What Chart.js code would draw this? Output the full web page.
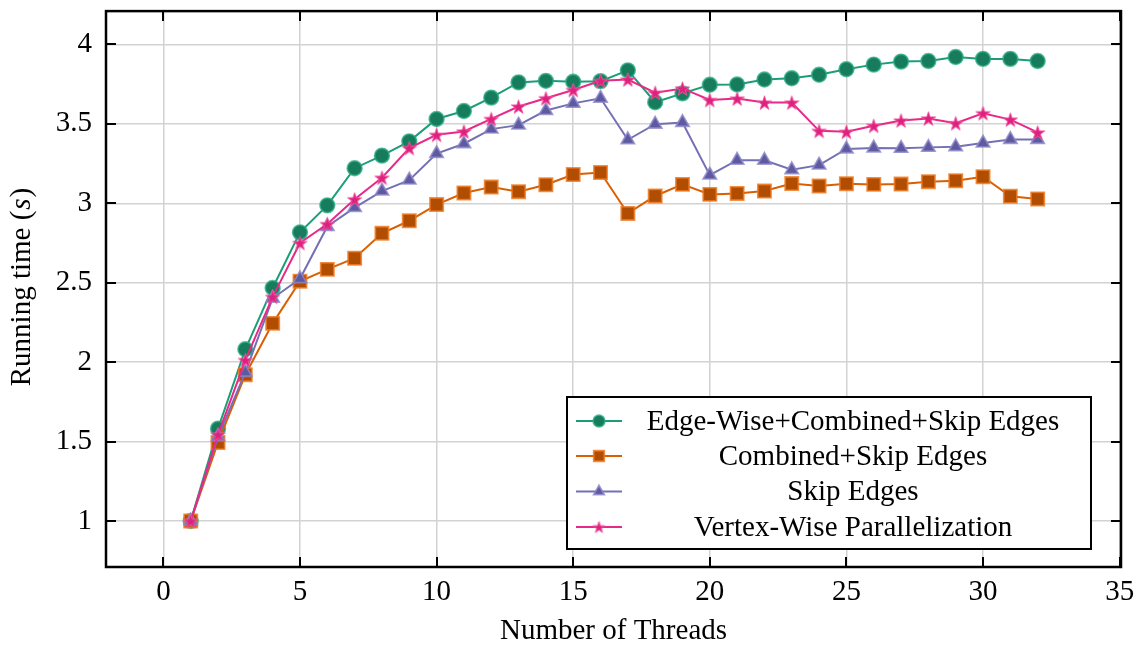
<!DOCTYPE html>
<html>
<head>
<meta charset="utf-8">
<script src="https://cdn.jsdelivr.net/npm/chart.js@4.4.1/dist/chart.umd.min.js"></script>
<style>
  html, body { margin: 0; padding: 0; background: #fff; }
  #wrap { width: 1139px; height: 645px; position: relative; }
</style>
</head>
<body>
<div id="wrap"><canvas id="c" width="1139" height="645"></canvas></div>
<script>
const threads = [1,2,3,4,5,6,7,8,9,10,11,12,13,14,15,16,17,18,19,20,21,22,23,24,25,26,27,28,29,30,31,32];

const edgeWiseCombinedSkip = [1.0,1.581,2.081,2.467,2.817,2.987,3.221,3.30,3.39,3.531,3.581,3.665,3.761,3.771,3.765,3.769,3.837,3.636,3.692,3.746,3.748,3.779,3.787,3.809,3.844,3.873,3.892,3.896,3.921,3.909,3.909,3.896];
const combinedSkip = [1.0,1.494,1.921,2.244,2.509,2.584,2.654,2.811,2.89,2.992,3.065,3.102,3.073,3.117,3.181,3.194,2.936,3.046,3.119,3.056,3.062,3.077,3.124,3.109,3.123,3.119,3.121,3.136,3.142,3.167,3.044,3.027];
const skipEdges = [1.0,1.53,1.935,2.402,2.525,2.854,2.973,3.077,3.146,3.313,3.375,3.467,3.492,3.584,3.629,3.661,3.40,3.498,3.509,3.177,3.271,3.271,3.211,3.24,3.342,3.348,3.346,3.352,3.356,3.379,3.402,3.402];
const vertexWise = [1.0,1.544,2.013,2.411,2.75,2.869,3.025,3.161,3.348,3.431,3.452,3.531,3.609,3.661,3.713,3.771,3.779,3.696,3.723,3.65,3.659,3.634,3.634,3.456,3.45,3.488,3.521,3.534,3.504,3.567,3.527,3.446];

const seriesNames = ["Edge-Wise+Combined+Skip Edges","Combined+Skip Edges","Skip Edges","Vertex-Wise Parallelization"];
const xTicks = [0,5,10,15,20,25,30,35];
const yTicks = [1,1.5,2,2.5,3,3.5,4];

const FONT = "'Liberation Serif', 'DejaVu Serif', serif";
const FS = 29;

function makeStar(outer, inner, fill, edge) {
  const s = Math.ceil(outer * 2 + 4);
  const c = document.createElement('canvas');
  c.width = s; c.height = s;
  const g = c.getContext('2d');
  const cx = s / 2, cy = s / 2 + outer * 0.1;
  g.beginPath();
  for (let k = 0; k < 10; k++) {
    const r = k % 2 === 0 ? outer : inner;
    const ang = -Math.PI / 2 + k * Math.PI / 5;
    const px = cx + r * Math.cos(ang), py = cy + r * Math.sin(ang);
    if (k === 0) g.moveTo(px, py); else g.lineTo(px, py);
  }
  g.closePath();
  g.fillStyle = fill; g.fill();
  g.strokeStyle = edge; g.lineWidth = 1; g.stroke();
  return c;
}
const starImg = makeStar(7.5, 2.9, '#e0207f', 'rgba(240,90,160,0.9)');
const starImgSmall = makeStar(6.2, 2.4, '#e0207f', 'rgba(240,90,160,0.9)');

const styles = [
  {line:'#1b9e77', fill:'#167c5c', edge:'rgba(40,170,130,0.75)', shape:'circle', r:7.3},
  {line:'#d95f02', fill:'#b04d00', edge:'rgba(240,120,30,0.8)', shape:'rect', r:9.3},
  {line:'#7570b3', fill:'#5f5aa0', edge:'rgba(140,135,200,0.8)', shape:'triangle', r:7.6},
  {line:'#e7298a', fill:'#e7298a', edge:'#e7298a', shape:starImg, small:starImgSmall, r:7}
];
const allSeries = [edgeWiseCombinedSkip, combinedSkip, skipEdges, vertexWise];

const datasets = allSeries.map((vals, i) => ({
  label: seriesNames[i],
  data: threads.map((t, k) => ({x: t, y: vals[k]})),
  borderColor: styles[i].line,
  borderWidth: 2,
  pointStyle: styles[i].shape,
  pointRadius: styles[i].r,
  pointBackgroundColor: styles[i].fill,
  pointBorderColor: styles[i].edge,
  pointBorderWidth: 1.8,
  tension: 0,
  order: 4 - i,
  clip: false
}));

const framePlugin = {
  id: 'frame',
  afterDatasetsDraw(chart) {
    const {ctx, chartArea: a, scales} = chart;
    ctx.save();
    ctx.strokeStyle = '#000';
    ctx.lineWidth = 2;
    const TL = 10;
    ctx.beginPath();
    xTicks.forEach(v => {
      const px = Math.round(scales.x.getPixelForValue(v));
      ctx.moveTo(px, a.bottom); ctx.lineTo(px, a.bottom - TL);
      ctx.moveTo(px, a.top); ctx.lineTo(px, a.top + TL);
    });
    yTicks.forEach(v => {
      const py = Math.round(scales.y.getPixelForValue(v));
      ctx.moveTo(a.left, py); ctx.lineTo(a.left + TL, py);
      ctx.moveTo(a.right, py); ctx.lineTo(a.right - TL, py);
    });
    ctx.stroke();
    ctx.lineWidth = 2.5;
    ctx.strokeRect(a.left, a.top, a.right - a.left, a.bottom - a.top);

    // legend
    const lx = 567, ly = 397, lw = 524, lh = 152;
    ctx.fillStyle = '#fff';
    ctx.fillRect(lx, ly, lw, lh);
    ctx.lineWidth = 2;
    ctx.strokeStyle = '#000';
    ctx.strokeRect(lx, ly, lw, lh);
    const rows = [421, 456, 491.5, 527];
    ctx.font = FS + "px " + FONT;
    ctx.textAlign = 'center';
    ctx.textBaseline = 'middle';
    seriesNames.forEach((name, i) => {
      const st = styles[i];
      const y = rows[i];
      ctx.strokeStyle = st.line;
      ctx.lineWidth = 2;
      ctx.beginPath(); ctx.moveTo(576, y); ctx.lineTo(622, y); ctx.stroke();
      ctx.fillStyle = st.fill;
      ctx.strokeStyle = st.edge;
      ctx.lineWidth = 1.8;
      Chart.helpers.drawPoint(ctx, {pointStyle: st.small || st.shape, radius: st.r * 0.8, rotation: 0, borderWidth: 1.8}, 599, y);
      ctx.fillStyle = '#000';
      ctx.fillText(name, 853, y + 1);
    });

    // y-axis title with italic s
    ctx.save();
    ctx.translate(22, 287);
    ctx.rotate(-Math.PI / 2);
    ctx.fillStyle = '#000';
    ctx.textBaseline = 'middle';
    ctx.textAlign = 'left';
    const p1 = "Running time (", p2 = "s", p3 = ")";
    ctx.font = FS + "px " + FONT;
    const w1 = ctx.measureText(p1).width;
    const w3 = ctx.measureText(p3).width;
    ctx.font = "italic " + FS + "px " + FONT;
    const w2 = ctx.measureText(p2).width + 2;
    const total = w1 + w2 + w3;
    let sx = -total / 2;
    ctx.font = FS + "px " + FONT;
    ctx.fillText(p1, sx, 0);
    ctx.font = "italic " + FS + "px " + FONT;
    ctx.fillText(p2, sx + w1 + 1, 0);
    ctx.font = FS + "px " + FONT;
    ctx.fillText(p3, sx + w1 + w2, 0);
    ctx.restore();

    ctx.restore();
  }
};

new Chart(document.getElementById('c'), {
  type: 'line',
  data: { datasets },
  options: {
    responsive: false,
    animation: false,
    devicePixelRatio: 1,
    layout: { padding: { top: 7, right: 18, left: 0, bottom: 0 } },
    plugins: { legend: { display: false }, tooltip: { enabled: false } },
    scales: {
      x: {
        type: 'linear',
        min: -2.1, max: 35.05,
        afterBuildTicks: s => { s.ticks = xTicks.map(v => ({value: v})); },
        afterFit: s => { s.height = 78; s.paddingLeft = 0; s.paddingRight = 0; },
        grid: { color: '#d2d2d2', lineWidth: 1.5, drawTicks: false },
        border: { display: false },
        ticks: { color: '#000', font: { family: FONT, size: FS }, padding: 8, maxRotation: 0, callback: v => String(v) },
        title: { display: true, text: 'Number of Threads', color: '#000', font: { family: FONT, size: FS }, padding: { top: 0, bottom: -4 } }
      },
      y: {
        type: 'linear',
        min: 0.71, max: 4.21,
        afterBuildTicks: s => { s.ticks = yTicks.map(v => ({value: v})); },
        afterFit: s => { s.width = 106; s.paddingTop = 0; s.paddingBottom = 0; },
        grid: { color: '#d2d2d2', lineWidth: 1.5, drawTicks: false },
        border: { display: false },
        ticks: { color: '#000', font: { family: FONT, size: FS }, padding: 14, callback: v => String(v) }
      }
    }
  },
  plugins: [framePlugin]
});
</script>
</body>
</html>
